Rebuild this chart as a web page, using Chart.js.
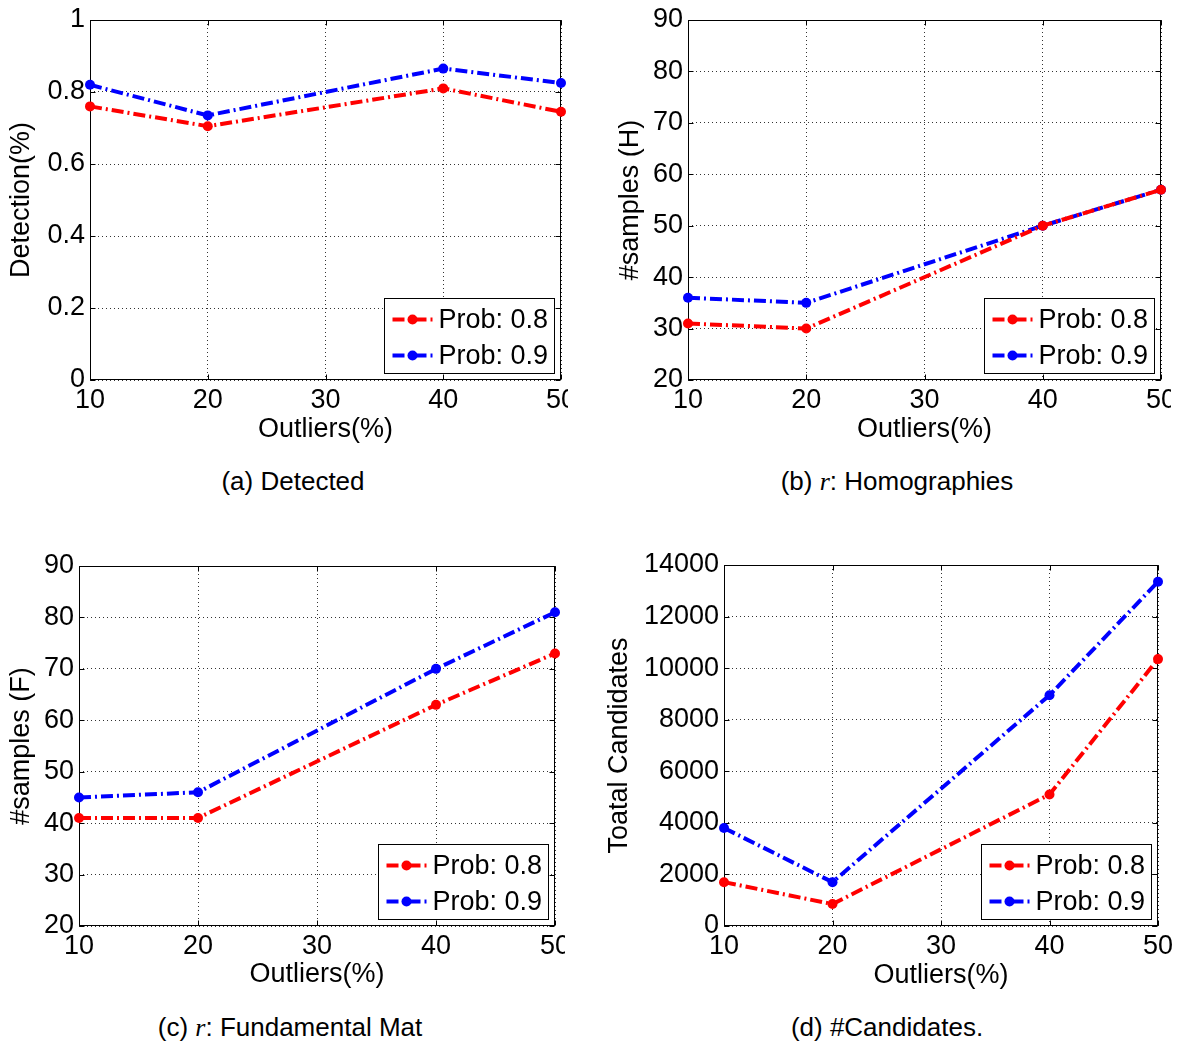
<!DOCTYPE html>
<html>
<head>
<meta charset="utf-8">
<script src="https://cdn.jsdelivr.net/npm/chart.js@4.4.1/dist/chart.umd.min.js"></script>
<style>
  body { margin: 0; background: #fff; width: 1178px; height: 1044px; position: relative; overflow: hidden;
         font-family: 'Liberation Sans', Arial, sans-serif; }
  canvas { position: absolute; }
  .cap { position: absolute; font-size: 26px; line-height: 30px; color: #000; white-space: nowrap; transform: translateX(-50%); }
  .cap i { font-family: 'Liberation Serif', 'DejaVu Serif', serif; }
</style>
</head>
<body>
<canvas id="chartA" width="568" height="450" style="left:0px;top:0px"></canvas>
<canvas id="chartB" width="581" height="450" style="left:590px;top:0px"></canvas>
<canvas id="chartC" width="565" height="452" style="left:0px;top:540px"></canvas>
<canvas id="chartD" width="588" height="452" style="left:590px;top:540px"></canvas>

<div class="cap" style="left:293px;top:466px">(a) Detected</div>
<div class="cap" style="left:897px;top:466px">(b) <i>r</i>: Homographies</div>
<div class="cap" style="left:290px;top:1012px">(c) <i>r</i>: Fundamental Mat</div>
<div class="cap" style="left:887px;top:1012px">(d) #Candidates.</div>

<script>
// outlier ratio (%) where each run was measured
const outliers = [10, 20, 40, 50];
const xTicks = [10, 20, 30, 40, 50];
const seriesNames = ['Prob: 0.8', 'Prob: 0.9'];
const seriesColors = ['#ff0000', '#0000ff'];

// (a) detection rate
const detectProb08 = [0.76, 0.705, 0.81, 0.745];
const detectProb09 = [0.82, 0.735, 0.865, 0.825];
const detectTicks = [0, 0.2, 0.4, 0.6, 0.8, 1];

// (b) samples needed for homographies
const homProb08 = [31, 30, 50, 57];
const homProb09 = [36, 35, 50, 57];
const homTicks = [20, 30, 40, 50, 60, 70, 80, 90];

// (c) samples needed for fundamental matrix
const fundProb08 = [41, 41, 63, 73];
const fundProb09 = [45, 46, 70, 81];
const fundTicks = [20, 30, 40, 50, 60, 70, 80, 90];

// (d) total candidates
const candProb08 = [1700, 850, 5100, 10350];
const candProb09 = [3800, 1700, 8950, 13350];
const candTicks = [0, 2000, 4000, 6000, 8000, 10000, 12000, 14000];

const FONT = "'Liberation Sans', Arial, sans-serif";
const FSIZE = 27;
const LH = FSIZE * 1.2;
const DASH = [12, 4, 2, 4];

Chart.defaults.font.family = FONT;
Chart.defaults.font.size = FSIZE;
Chart.defaults.color = '#000';

// box around the axes with small inward ticks, plus an in-plot legend
const matlabAxes = {
  id: 'matlabAxes',
  beforeDatasetsDraw(chart) {
    const { ctx, chartArea: a, scales: { x, y } } = chart;
    const l = Math.round(a.left) + 0.5, r = Math.round(a.right) - 0.5;
    const t = Math.round(a.top) + 0.5, b = Math.round(a.bottom) - 0.5;
    ctx.save();
    ctx.strokeStyle = '#000';
    ctx.lineWidth = 1;
    ctx.strokeRect(l, t, r - l, b - t);
    ctx.beginPath();
    x.ticks.forEach(tk => {
      const px = Math.round(x.getPixelForValue(tk.value)) + 0.5;
      ctx.moveTo(px, b); ctx.lineTo(px, b - 5);
      ctx.moveTo(px, t); ctx.lineTo(px, t + 5);
    });
    y.ticks.forEach(tk => {
      const py = Math.round(y.getPixelForValue(tk.value)) + 0.5;
      ctx.moveTo(l, py); ctx.lineTo(l + 5, py);
      ctx.moveTo(r, py); ctx.lineTo(r - 5, py);
    });
    ctx.stroke();
    ctx.restore();
  },
  afterDatasetsDraw(chart) {
    const { ctx, chartArea: a } = chart;
    const w = 170, h = 75;
    const bx = Math.round(a.right - 7 - w) + 0.5;
    const by = Math.round(a.bottom - 7 - h) + 0.5;
    ctx.save();
    ctx.fillStyle = '#fff';
    ctx.fillRect(bx, by, w, h);
    ctx.strokeStyle = '#000';
    ctx.lineWidth = 1;
    ctx.strokeRect(bx, by, w, h);
    chart.data.datasets.forEach((ds, i) => {
      const ry = by + 21 + i * 36;
      ctx.strokeStyle = ds.borderColor;
      ctx.lineWidth = ds.borderWidth;
      ctx.setLineDash(DASH);
      ctx.beginPath();
      ctx.moveTo(bx + 8, ry);
      ctx.lineTo(bx + 49, ry);
      ctx.stroke();
      ctx.setLineDash([]);
      ctx.fillStyle = ds.borderColor;
      ctx.beginPath();
      ctx.arc(bx + 28, ry, ds.pointRadius, 0, Math.PI * 2);
      ctx.fill();
      ctx.fillStyle = '#000';
      ctx.font = FSIZE + 'px ' + FONT;
      ctx.textBaseline = 'middle';
      ctx.textAlign = 'left';
      ctx.fillText(ds.label, bx + 54, ry + 1);
    });
    ctx.restore();
  }
};

function series(label, color, values) {
  return {
    label,
    data: outliers.map((x, i) => ({ x, y: values[i] })),
    borderColor: color,
    backgroundColor: color,
    borderWidth: 4,
    borderDash: DASH,
    pointRadius: 5,
    pointBorderWidth: 0,
    pointBackgroundColor: color,
    tension: 0,
    fill: false,
    clip: false
  };
}

function axis(ticks, title, fixedSize, isX, titlePad) {
  return {
    type: 'linear',
    min: ticks[0],
    max: ticks[ticks.length - 1],
    afterBuildTicks: s => { s.ticks = ticks.map(v => ({ value: v })); },
    afterFit: s => {
      // fixed plot box: no extra room for overhanging tick labels
      if (isX) s.height = fixedSize; else s.width = fixedSize;
      s.paddingLeft = s.paddingRight = s.paddingTop = s.paddingBottom = 0;
    },
    ticks: {
      autoSkip: false,
      maxRotation: 0,
      minRotation: 0,
      padding: isX ? 4 : 5,
      callback: v => String(v)
    },
    grid: { color: '#333', lineWidth: 1, drawTicks: false },
    border: { display: false, dash: [1, 3] },
    title: { display: true, text: title, padding: titlePad }
  };
}

// g: plot rectangle and title centres, in canvas pixels
function panel(id, p08, p09, yTicks, yTitle, g) {
  const cv = document.getElementById(id);
  const W = cv.width, H = cv.height;
  new Chart(cv, {
    type: 'line',
    data: {
      datasets: [
        series(seriesNames[0], seriesColors[0], p08),
        series(seriesNames[1], seriesColors[1], p09)
      ]
    },
    options: {
      responsive: false,
      animation: false,
      devicePixelRatio: 1,
      layout: { autoPadding: false, padding: { left: 0, top: g.top, right: W - g.right, bottom: 0 } },
      plugins: { legend: { display: false }, tooltip: { enabled: false } },
      scales: {
        x: axis(xTicks, 'Outliers(%)', H - g.bottom, true,
                { top: 0, bottom: H - g.xTitleY - LH / 2 }),
        y: axis(yTicks, yTitle, g.left, false,
                { top: g.yTitleX - LH / 2, bottom: 0 })
      }
    },
    plugins: [matlabAxes]
  });
}

panel('chartA', detectProb08, detectProb09, detectTicks, 'Detection(%)',
      { left: 90, right: 561, top: 20, bottom: 380, yTitleX: 22, xTitleY: 430 });
panel('chartB', homProb08, homProb09, homTicks, '#samples (H)',
      { left: 98, right: 571, top: 20, bottom: 380, yTitleX: 41, xTitleY: 430 });
panel('chartC', fundProb08, fundProb09, fundTicks, '#samples (F)',
      { left: 79, right: 555, top: 26, bottom: 386, yTitleX: 22, xTitleY: 435 });
panel('chartD', candProb08, candProb09, candTicks, 'Toatal Candidates',
      { left: 134, right: 568, top: 25, bottom: 386, yTitleX: 30, xTitleY: 436 });
</script>
</body>
</html>
